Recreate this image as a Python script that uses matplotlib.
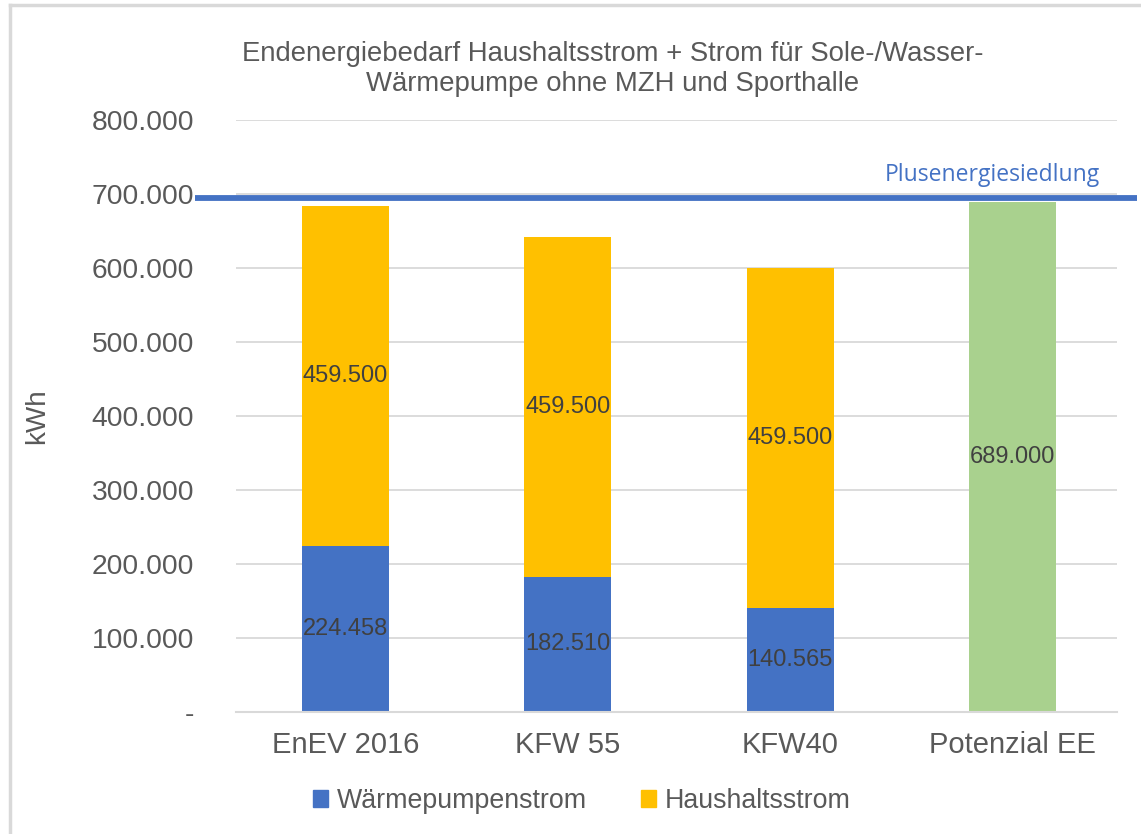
import matplotlib
matplotlib.use("Agg")
import matplotlib.pyplot as plt
from matplotlib.lines import Line2D
from matplotlib.patches import Patch
import matplotlib.ticker as mticker

categories = ["EnEV 2016", "KFW 55", "KFW40", "Potenzial EE"]
waermepumpe = [224458, 182510, 140565, 0]
haushalt = [459500, 459500, 459500, 0]
potenzial = [0, 0, 0, 689000]
plus_line_value = 694000
plus_label = "Plusenergiesiedlung"
title = "Endenergiebedarf Haushaltsstrom + Strom für Sole-/Wasser-\nWärmepumpe ohne MZH und Sporthalle"
yticks = [0, 100000, 200000, 300000, 400000, 500000, 600000, 700000, 800000]

BLUE = "#4472C4"
YELLOW = "#FFC000"
GREEN = "#A9D18E"
TXT = "#595959"
LBL = "#404040"

plt.rcParams['font.family'] = ['Liberation Sans', 'DejaVu Sans']

fig = plt.figure(figsize=(11.41, 8.34), dpi=100)
ax = fig.add_axes([236/1141, 1-712/834, (1117-236)/1141, (712-120)/834])

x = list(range(len(categories)))
w = 0.391
ax.bar(x[:3], waermepumpe[:3], w, color=BLUE, zorder=2)
ax.bar(x[:3], haushalt[:3], w, bottom=waermepumpe[:3], color=YELLOW, zorder=2)
ax.bar(x[3], potenzial[3], w, color=GREEN, zorder=2)

def de(v):
    return f"{int(round(v)):,}".replace(",", ".")

for i in range(3):
    ax.text(x[i], waermepumpe[i]/2, de(waermepumpe[i]), ha="center", va="center",
            fontsize=17, color=LBL, zorder=3)
    ax.text(x[i], waermepumpe[i] + haushalt[i]/2, de(haushalt[i]), ha="center", va="center",
            fontsize=17, color=LBL, zorder=3)
ax.text(x[3], potenzial[3]/2, de(potenzial[3]), ha="center", va="center",
        fontsize=17, color=LBL, zorder=3)

ax.set_xlim(-0.492, 3.468)
ax.set_ylim(0, 800000)
ax.set_yticks(yticks)
ax.yaxis.set_major_formatter(mticker.FuncFormatter(lambda v, p: "-" if v == 0 else de(v)))
ax.set_xticks(x)
ax.set_xticklabels(categories)
ax.tick_params(axis="y", length=0, pad=30, labelsize=20.3, labelcolor=TXT)
ax.tick_params(axis="x", length=0, pad=14, labelsize=21, labelcolor=TXT)
ax.grid(axis="y", color="#D9D9D9", linewidth=1.3, zorder=0)
for s in ["top", "right", "left"]:
    ax.spines[s].set_visible(False)
ax.spines["bottom"].set_color("#D9D9D9")
ax.spines["bottom"].set_linewidth(1.5)
ax.set_ylabel("kWh", fontsize=20, color=TXT, labelpad=30)

# Plusenergiesiedlung line
trans = ax.get_yaxis_transform()
ax.plot([-0.0465, 1.0227], [plus_line_value, plus_line_value], color=BLUE, lw=4.2,
        transform=trans, clip_on=False, zorder=4, solid_capstyle="butt")
ax.text(0.858, plus_line_value + 32000, plus_label, transform=trans, ha="center",
        va="center", fontsize=16.5, color=BLUE, family=["Open Sans", "DejaVu Sans"])

fig.text(613/1141, 1-69/834, title, ha="center", va="center", fontsize=19.8, color=TXT,
         linespacing=1.2)

handles = [Patch(color=BLUE), Patch(color=YELLOW)]
leg = fig.legend(handles, ["Wärmepumpenstrom", "Haushaltsstrom"], loc="center",
                 bbox_to_anchor=(582/1141, 1-801/834), ncol=2, frameon=False,
                 fontsize=19.3, handlelength=0.55, handleheight=0.55, handletextpad=0.35,
                 columnspacing=2.0)
for t in leg.get_texts():
    t.set_color(TXT)

# outer frame (partially visible)
fig.add_artist(Line2D([10/1141, 10/1141], [0, 1-5/834], color="#D9D9D9", lw=2.5,
                      transform=fig.transFigure))
fig.add_artist(Line2D([10/1141, 1], [1-5/834, 1-5/834], color="#D9D9D9", lw=2.5,
                      transform=fig.transFigure))

fig.savefig("out.png", dpi=100)
